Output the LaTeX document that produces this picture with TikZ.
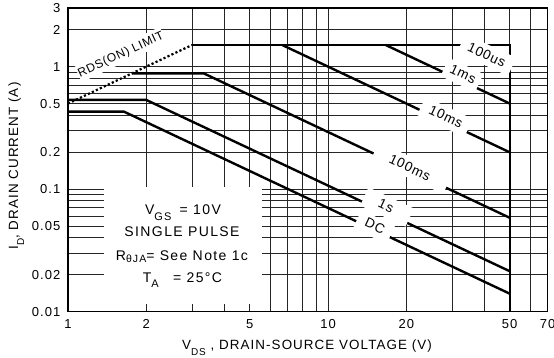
\documentclass[tikz,border=0pt]{standalone}
\usepackage{fontspec}
\setmainfont{Liberation Sans}
\newfontfamily\tickfont{Liberation Sans}[LetterSpace=8]
\newfontfamily\labfont{Liberation Sans}[LetterSpace=6]
\newfontfamily\legfont{Liberation Sans}[LetterSpace=10]
\pgfmathdeclarefunction{px}{1}{\pgfmathparse{68+260*log10(#1)}}
\pgfmathdeclarefunction{py}{1}{\pgfmathparse{312-122.7*(log10(#1)+2)}}
\newcommand{\lowsub}[3]{\raisebox{-#2}{\fontsize{#3}{#3}\selectfont #1}}
\begin{document}
\begin{tikzpicture}[x=1pt,y=-1pt,
  gridline/.style={black!85, line width=0.75pt},
  frameline/.style={black, line width=1.4pt},
  curve/.style={black, line width=2.4pt},
  limitline/.style={black, line width=2.2pt, dash pattern=on 2.2pt off 2.2pt},
  eraser/.style={white, shift={#1}, rotate=-25},
  clabel/.style={rotate=-25, inner sep=0pt, font=\labfont\fontsize{13.5}{13.5}\selectfont},
  ticklab/.style={font=\tickfont\fontsize{13}{13}\selectfont, inner sep=0pt},
  legline/.style={font=\legfont\fontsize{14}{14}\selectfont, inner sep=0pt, anchor=base},
  axlab/.style={font=\tickfont\fontsize{13.4}{13.4}\selectfont, inner sep=0pt, anchor=base}
]
\path[use as bounding box] (0,0) rectangle (554,357);
% grid
\foreach \v in {2,3,4,5,6,7,8,9,10,20,30,40,50,60}
  \draw[gridline] ({px(\v)},{py(3)}) -- ({px(\v)},{py(0.01)});
\foreach \i in {0.02,0.03,0.04,0.05,0.06,0.07,0.08,0.09,0.1,0.2,0.3,0.4,0.5,0.6,0.7,0.8,0.9,1,2}
  \draw[gridline] ({px(1)},{py(\i)}) -- ({px(70)},{py(\i)});
% legend box
\fill[white] (103.5,187) rectangle (261.5,303.5);
\node[legline] (vgs) at (183,214) {V\lowsub{GS}{6pt}{11}\hspace{3pt} = 10V};
\node[legline] (sp) at (182,236) {SINGLE PULSE};
\node[legline] (rja) at (182,260.5) {R\lowsub{θJA}{2pt}{10.5}= See Note 1c};
\node[legline] (ta) at (182.5,282.8) {T\lowsub{A}{5pt}{11}\hspace{9pt} = 25°C};
% named corner points of the curves
\coordinate (r1) at ({px(1)},{py(0.5)});
\coordinate (r3) at ({px(3)},{py(1.5)});
\coordinate (c50top) at ({px(50)},{py(1.5)});
\coordinate (c50bot) at ({px(50)},{py(0.01)});
% curves
\draw[limitline] (r1) -- (r3);
\draw[curve, line join=miter] (r3) -- (c50top) -- (c50bot);
\draw[curve] ({px(50/3)},{py(1.5)}) -- ({px(50)},{py(0.5)});
\draw[curve] ({px(20/3)},{py(1.5)}) -- ({px(50)},{py(0.2)});
\draw[curve] ({px(1.76)},{py(0.88)}) -- ({px(3.33)},{py(0.88)}) -- ({px(50)},{py(0.0586)});
\draw[curve] ({px(1)},{py(0.535)}) -- ({px(2)},{py(0.535)}) -- ({px(50)},{py(0.0214)});
\draw[curve] ({px(1)},{py(0.43)}) -- ({px(1.64)},{py(0.43)}) -- ({px(50)},{py(0.0141)});
% white patches behind the curve labels
\fill[eraser={(486.7,55)}] (-28,-10) rectangle (28,10);
\fill[eraser={(462,75)}] (-19,-10) rectangle (19,10);
\fill[eraser={(445,117)}] (-26,-10) rectangle (26,10);
\fill[eraser={(411,168)}] (-40,-10) rectangle (40,10);
\fill[eraser={(387,207)}] (-25,-10) rectangle (25,10);
\fill[eraser={(374,227)}] (-18.5,-10) rectangle (18.5,10);
\fill[white, shift={(121,55)}, rotate=25] (-47,-9) rectangle (47,8);
% curve labels
\node[clabel] (l100us) at (486.7,55) {100us};
\node[clabel] (l1ms) at (463,74) {1ms};
\node[clabel] (l10ms) at (446,116.5) {10ms};
\node[clabel] (l100ms) at (410,167.5) {100ms};
\node[clabel] (l1s) at (386,206) {1s};
\node[clabel] (ldc) at (375,226) {DC};
\node[rotate=25, inner sep=0pt, font=\labfont\fontsize{12}{12}\selectfont] (lrds) at (121,55) {RDS(ON) LIMIT};
% frame
\draw[frameline] ({px(1)},{py(3)}) rectangle ({px(70)},{py(0.01)});
% y tick labels
\foreach \i/\t in {3/3,2/2,1/1,0.5/0.5,0.2/0.2,0.1/0.1,0.05/0.05,0.02/0.02,0.01/0.01}
  \node[ticklab, anchor=base east] (yt\t) at (60.5,{py(\i)+4.6}) {\t};
% x tick labels
\foreach \v in {1,2,5,10,20,50,70}
  \node[ticklab, anchor=base] (xt\v) at ({px(\v)},328.5) {\v};
% axis titles
\node[axlab] (xtitle) at (307,349.3) {V\lowsub{DS}{6pt}{10}\ , DRAIN-SOURCE VOLTAGE (V)};
\node[axlab, rotate=90] (ytitle) at (18,166) {I\lowsub{D}{6pt}{10}, DRAIN CURRENT (A)};
\end{tikzpicture}
\end{document}
